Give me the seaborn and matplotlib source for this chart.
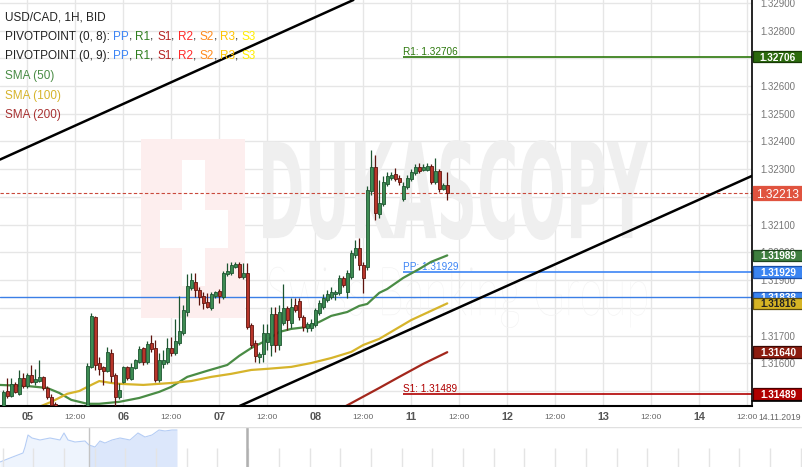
import numpy as np
import pandas as pd
import matplotlib
matplotlib.use("Agg")
import matplotlib.pyplot as plt
import seaborn as sns
from matplotlib.patches import Rectangle, PathPatch
from matplotlib.textpath import TextPath
from matplotlib.font_manager import FontProperties
from matplotlib.transforms import Affine2D, blended_transform_factory
from matplotlib.lines import Line2D

# ---------------- data ----------------
opens = [1.31443, 1.31500, 1.31482, 1.31526, 1.31490, 1.31547, 1.31518, 1.31558, 1.31533, 1.31536,
         1.31551, 1.31511, 1.31479, 1.31454, 1.31425, 1.31400, 1.31385, 1.31395, 1.31380, 1.31400,
         1.31410, 1.31425, 1.31587, 1.31767, 1.31601, 1.31587, 1.31573, 1.31637, 1.31558, 1.31479,
         1.31533, 1.31587, 1.31544, 1.31583, 1.31605, 1.31655, 1.31605, 1.31674, 1.31655, 1.31540,
         1.31598, 1.31605, 1.31655, 1.31637, 1.31674, 1.31710, 1.31785, 1.31872, 1.31893, 1.31865,
         1.31843, 1.31821, 1.31800, 1.31843, 1.31861, 1.31839, 1.31922, 1.31926, 1.31947, 1.31958,
         1.31911, 1.31926, 1.31738, 1.31674, 1.31623, 1.31634, 1.31677, 1.31666, 1.31778, 1.31666,
         1.31746, 1.31800, 1.31746, 1.31810, 1.31825, 1.31767, 1.31728, 1.31728, 1.31738, 1.31782,
         1.31803, 1.31829, 1.31839, 1.31850, 1.31854, 1.31908, 1.31857, 1.31911, 1.31991, 1.32016,
         1.31955, 1.31947, 1.32221, 1.32308, 1.32139, 1.32175, 1.32247, 1.32268, 1.32283, 1.32268,
         1.32193, 1.32236, 1.32265, 1.32286, 1.32308, 1.32297, 1.32297, 1.32312, 1.32254, 1.32293,
         1.32229, 1.32243]
highs = [1.31504, 1.31547, 1.31547, 1.31533, 1.31576, 1.31565, 1.31565, 1.31594, 1.31580, 1.31612,
         1.31554, 1.31518, 1.31490, 1.31461, 1.31430, 1.31410, 1.31405, 1.31410, 1.31415, 1.31425,
         1.31448, 1.31601, 1.31782, 1.31771, 1.31623, 1.31591, 1.31659, 1.31652, 1.31565, 1.31529,
         1.31591, 1.31591, 1.31601, 1.31616, 1.31663, 1.31659, 1.31681, 1.31702, 1.31684, 1.31637,
         1.31648, 1.31691, 1.31695, 1.31760, 1.31843, 1.31810, 1.31922, 1.31926, 1.31926, 1.31875,
         1.31857, 1.31854, 1.31857, 1.31861, 1.31868, 1.31933, 1.31962, 1.31966, 1.31966, 1.31966,
         1.31962, 1.31962, 1.31746, 1.31684, 1.31641, 1.31742, 1.31742, 1.31803, 1.31803, 1.31810,
         1.31886, 1.31807, 1.31836, 1.31836, 1.31836, 1.31774, 1.31749, 1.31760, 1.31800, 1.31829,
         1.31850, 1.31865, 1.31875, 1.31865, 1.31919, 1.31915, 1.31937, 1.32009, 1.32045, 1.32052,
         1.31966, 1.32239, 1.32369, 1.32351, 1.32261, 1.32276, 1.32290, 1.32290, 1.32304, 1.32279,
         1.32254, 1.32279, 1.32301, 1.32319, 1.32322, 1.32319, 1.32322, 1.32319, 1.32340, 1.32301,
         1.32250, 1.32290]
lows = [1.31432, 1.31475, 1.31479, 1.31493, 1.31486, 1.31511, 1.31511, 1.31529, 1.31522, 1.31533,
        1.31504, 1.31472, 1.31443, 1.31414, 1.31390, 1.31370, 1.31375, 1.31365, 1.31370, 1.31390,
        1.31400, 1.31414, 1.31583, 1.31576, 1.31558, 1.31522, 1.31569, 1.31533, 1.31443, 1.31472,
        1.31529, 1.31540, 1.31540, 1.31580, 1.31601, 1.31594, 1.31598, 1.31641, 1.31533, 1.31533,
        1.31583, 1.31598, 1.31627, 1.31630, 1.31666, 1.31702, 1.31771, 1.31865, 1.31839, 1.31810,
        1.31796, 1.31800, 1.31792, 1.31836, 1.31818, 1.31832, 1.31915, 1.31919, 1.31944, 1.31908,
        1.31904, 1.31724, 1.31655, 1.31605, 1.31601, 1.31605, 1.31648, 1.31627, 1.31641, 1.31648,
        1.31738, 1.31720, 1.31728, 1.31785, 1.31756, 1.31717, 1.31713, 1.31717, 1.31731, 1.31774,
        1.31796, 1.31821, 1.31832, 1.31829, 1.31847, 1.31875, 1.31836, 1.31904, 1.31980, 1.31937,
        1.31854, 1.31937, 1.32207, 1.32117, 1.32124, 1.32167, 1.32239, 1.32261, 1.32257, 1.32243,
        1.32185, 1.32229, 1.32257, 1.32279, 1.32286, 1.32293, 1.32293, 1.32247, 1.32247, 1.32218,
        1.32225, 1.32189]
closes = [1.31497, 1.31482, 1.31526, 1.31497, 1.31547, 1.31518, 1.31558, 1.31533, 1.31544, 1.31551,
          1.31511, 1.31479, 1.31450, 1.31425, 1.31400, 1.31385, 1.31395, 1.31380, 1.31400, 1.31410,
          1.31420, 1.31591, 1.31771, 1.31594, 1.31580, 1.31573, 1.31641, 1.31554, 1.31479, 1.31504,
          1.31587, 1.31547, 1.31587, 1.31612, 1.31652, 1.31605, 1.31670, 1.31652, 1.31540, 1.31612,
          1.31612, 1.31655, 1.31637, 1.31681, 1.31717, 1.31792, 1.31879, 1.31901, 1.31865, 1.31839,
          1.31818, 1.31803, 1.31850, 1.31857, 1.31843, 1.31926, 1.31933, 1.31955, 1.31958, 1.31911,
          1.31926, 1.31731, 1.31666, 1.31627, 1.31634, 1.31710, 1.31710, 1.31778, 1.31666, 1.31785,
          1.31800, 1.31756, 1.31803, 1.31792, 1.31767, 1.31731, 1.31742, 1.31746, 1.31792, 1.31818,
          1.31836, 1.31850, 1.31857, 1.31857, 1.31908, 1.31883, 1.31926, 1.31998, 1.32016, 1.31955,
          1.31908, 1.32225, 1.32308, 1.32142, 1.32178, 1.32254, 1.32276, 1.32279, 1.32265, 1.32254,
          1.32239, 1.32268, 1.32290, 1.32308, 1.32293, 1.32308, 1.32312, 1.32254, 1.32293, 1.32229,
          1.32243, 1.32213]

sma50_idx = [-1, 6, 11, 14, 17, 21, 24, 29, 34, 39, 42, 46, 51, 56, 59, 62, 66, 69, 72, 76, 79,
             82, 86, 89, 91, 94, 96, 100, 104, 107, 111]
sma50_val = [1.31522, 1.31518, 1.31511, 1.31493, 1.31468, 1.31454, 1.31454, 1.31461, 1.31475,
             1.31497, 1.31515, 1.31551, 1.31573, 1.31594, 1.31627, 1.31655, 1.31684, 1.31713,
             1.31724, 1.31731, 1.31749, 1.31771, 1.31785, 1.31807, 1.31814, 1.31854, 1.31868,
             1.31908, 1.31940, 1.31966, 1.31989]
sma100_idx = [6, 12, 16, 19, 22, 24, 27, 29, 35, 39, 42, 47, 52, 57, 62, 66, 72, 77, 82, 87, 90,
              94, 102, 111]
sma100_val = [1.31425, 1.31461, 1.31490, 1.31500, 1.31522, 1.31536, 1.31529, 1.31526, 1.31522,
              1.31526, 1.31529, 1.31536, 1.31551, 1.31562, 1.31576, 1.31580, 1.31587, 1.31601,
              1.31619, 1.31641, 1.31666, 1.31688, 1.31756, 1.31816]
sma200_idx = [83, 89, 94, 99, 105, 111]
sma200_val = [1.31425, 1.31472, 1.31511, 1.31551, 1.31598, 1.31640]

# trend channel anchors (candle index, price)
upper_trend = [(0, 1.32340), (80, 1.32861)]
lower_trend = [(60, 1.31452), (186, 1.32268)]

pivot_start = 100
r1_value = 1.32706
pp_value = 1.31929
s1_value = 1.31489
prev_pp_value = 1.31838
last_price = 1.32213

day_pos = [6, 30, 54, 78, 102, 126, 150, 174]
day_labels = ["05", "06", "07", "08", "11", "12", "13", "14"]
noon_pos = [18, 42, 66, 90, 114, 138, 162, 186]
noon_labels = ["12:00"] * 8
price_ticks = [1.314, 1.315, 1.316, 1.317, 1.318, 1.319, 1.320, 1.321, 1.322, 1.323,
               1.324, 1.325, 1.326, 1.327, 1.328, 1.329]
# tick labels fully covered by the price boxes in the reference
hidden_ticks = [1.315, 1.318, 1.322, 1.327]

nav_t = [0, 10, 23, 25, 28, 32, 40, 50, 60, 64, 68, 75, 85, 89, 95, 100, 105, 112, 120, 130,
         138, 145, 152, 159, 165, 172, 177]
nav_v = [5, 9, 14, 20, 32, 29, 27, 29, 27, 34, 27, 25, 26, 22, 20, 26, 24, 27, 29, 27, 34, 30,
         32, 37, 36, 37, 37]

# ---------------- style ----------------
sns.set_theme(style="white")
plt.rcParams['font.family'] = ['Liberation Sans', 'DejaVu Sans']

W, H = 803, 467
fig = plt.figure(figsize=(W / 100, H / 100), dpi=100)
fig.patch.set_facecolor('white')
ax = fig.add_axes([0, (H - 406) / H, 752 / W, 406 / H])
ax.set_facecolor('none')

XMIN, XMAX = -0.825, 187.2
YMIN, YMAX = 1.31446, 1.32910

G_FILL, G_EDGE = '#3d8b52', '#1d5530'
R_FILL, R_EDGE = '#b8352a', '#5e140e'

# watermark ----------------------------------------------------------
def fit_text(s, box, color, family, weight):
    fp = FontProperties(family=family, weight=weight)
    tp = TextPath((0, 0), s, size=100, prop=fp)
    ext = tp.get_extents()
    x0, y0, x1, y1 = box
    fx0, fx1 = x0 / W, x1 / W
    fy0, fy1 = 1 - y1 / H, 1 - y0 / H
    tr = (Affine2D().translate(-ext.x0, -ext.y0)
          .scale((fx1 - fx0) / ext.width, (fy1 - fy0) / ext.height)
          .translate(fx0, fy0) + fig.transFigure)
    ax.add_patch(PathPatch(tp, transform=tr, fc=color, ec='none', zorder=0.6))

def fig_rect(x0, y0, x1, y1, color, z):
    ax.add_patch(Rectangle((x0 / W, 1 - y1 / H), (x1 - x0) / W, (y1 - y0) / H,
                           transform=fig.transFigure, fc=color, ec='none', zorder=z))

fig_rect(141, 139, 245, 318, '#fdeeee', 0.55)
fig_rect(160, 210, 228, 248, 'white', 0.56)
fig_rect(182, 160, 205, 286, 'white', 0.56)
fit_text("DUKASCOPY", (263, 140, 648, 240), '#efefef', 'DejaVu Sans', 'bold')
fit_text("Swiss Banking Group", (268, 266, 647, 328), '#f2f2f2', 'Lato', 'light')

# grid / axes --------------------------------------------------------
ax.set_xticks(day_pos)
ax.set_xticklabels(day_labels)
ax.set_xticks(noon_pos, minor=True)
ax.set_xticklabels(noon_labels, minor=True)
ax.set_yticks(price_ticks)
ax.set_yticklabels(["" if any(abs(v - h) < 1e-9 for h in hidden_ticks) else f"{v:.5f}"
                    for v in price_ticks])
ax.yaxis.tick_right()
ax.grid(True, which='major', axis='both', color='#e6e6e6', lw=1)
ax.grid(True, which='minor', axis='x', color='#e6e6e6', lw=1)
ax.set_axisbelow(True)
ax.tick_params(axis='y', which='major', length=0, pad=6, labelsize=7, labelcolor='#777777')
ax.tick_params(axis='x', which='major', length=0, pad=4.5, labelsize=7.8, labelcolor='#555555')
ax.tick_params(axis='x', which='minor', length=0, pad=5.5, labelsize=6, labelcolor='#666666')
for lab in ax.get_xticklabels():
    lab.set_fontweight('bold')
for s in ['top', 'left']:
    ax.spines[s].set_visible(False)
ax.spines['right'].set_color('black')
ax.spines['right'].set_linewidth(1.2)
ax.spines['bottom'].set_color('black')
ax.spines['bottom'].set_linewidth(1.5)

# horizontal levels ----------------------------------------------------
ax.axhline(prev_pp_value, color='#3b7fe6', lw=1, zorder=1.5)
ax.axhline(last_price, color='#c9483a', lw=0.8, ls=(0, (3, 2)), zorder=1.5)
for val, col, name in [(r1_value, '#2c780c', 'R1'), (pp_value, '#3d85f5', 'PP'),
                       (s1_value, '#b00000', 'S1')]:
    ax.hlines(val, pivot_start, XMAX, color=col, lw=1.2, zorder=1.6)
    ax.text(pivot_start, val, f"{name}: {val:.5f}", color=col, fontsize=7.2,
            ha='left', va='bottom', zorder=1.7)

# SMA lines ------------------------------------------------------------
sns.lineplot(x=sma50_idx, y=sma50_val, ax=ax, color='#4a8c45', lw=1.6, sort=False,
             estimator=None, zorder=2)
sns.lineplot(x=sma100_idx, y=sma100_val, ax=ax, color='#d6b42b', lw=1.6, sort=False,
             estimator=None, zorder=2)
sns.lineplot(x=sma200_idx, y=sma200_val, ax=ax, color='#a3271c', lw=1.6, sort=False,
             estimator=None, zorder=2)

# trend channel
ax.axline(upper_trend[0], upper_trend[1], color='black', lw=1.8, zorder=2.2)
ax.axline(lower_trend[0], lower_trend[1], color='black', lw=1.8, zorder=2.2)

# candles --------------------------------------------------------------
df = pd.DataFrame({'open': opens, 'high': highs, 'low': lows, 'close': closes})
df['idx'] = np.arange(len(df))
up = (df['close'] >= df['open']).values
edge = np.where(up, G_EDGE, R_EDGE)
fill = np.where(up, G_FILL, R_FILL)
ax.vlines(df['idx'], df['low'], df['high'], colors=edge, lw=0.9, zorder=3)
body_h = (df['close'] - df['open']).abs().clip(lower=0.000025)
body_b = df[['open', 'close']].min(axis=1)
ax.bar(df['idx'], body_h, bottom=body_b, width=0.72, color=fill, edgecolor=edge,
       linewidth=0.6, zorder=4)

ax.set_xlim(XMIN, XMAX)
ax.set_ylim(YMIN, YMAX)
ax.set_xlabel('')
ax.set_ylabel('')

# right-side price boxes -------------------------------------------------
tb = blended_transform_factory(ax.transAxes, ax.transData)
ppx = (YMAX - YMIN) / 406.0

def price_box(val, fc, ec, tc, z, h_px=11.5, fs=7.2, weight='bold'):
    h = h_px * ppx
    ax.add_patch(Rectangle((1.0 + 1 / 752, val - h / 2), 50 / 752, h, transform=tb,
                           fc=fc, ec=ec, lw=0.9, clip_on=False, zorder=z))
    ax.text(1.0 + 26 / 752, val, f"{val:.5f}", transform=tb, ha='center',
            va='center_baseline', fontsize=fs, color=tc, fontweight=weight,
            clip_on=False, zorder=z + 0.1)

price_box(r1_value, '#2b6a0d', '#173a06', 'white', 10)
price_box(last_price, '#e0533f', '#e0533f', 'white', 10, h_px=14.3, fs=8.6, weight='normal')
price_box(sma50_val[-1], '#3f7e3f', '#1e451e', 'white', 10)
price_box(pp_value, '#3b85f2', '#1c4fa6', 'white', 10)
price_box(prev_pp_value, '#3b85f2', '#1c4fa6', 'white', 10)
price_box(sma100_val[-1], '#d6b424', '#5e4d0c', '#222222', 11)
price_box(sma200_val[-1], '#8c1c0f', '#3a0804', 'white', 10)
price_box(s1_value, '#b00000', '#4a0000', 'white', 10)

# legend text (top-left) -------------------------------------------------
FS = 8.5
def colored_line(y_px, parts):
    prev = ax.text(5 / W, 1 - y_px / H, parts[0][0], color=parts[0][1], fontsize=FS,
                   ha='left', va='baseline', transform=fig.transFigure, zorder=20)
    for s, c in parts[1:]:
        prev = ax.annotate(s, xy=(1, 0), xycoords=prev, va='bottom', ha='left',
                           color=c, fontsize=FS, annotation_clip=False, zorder=20)

BLK = '#222222'
piv_parts = [("PP", '#3d85f5'), (", ", BLK), ("R1", '#2e7d1e'), (", ", BLK),
             ("S1", '#b52222'), (", ", BLK), ("R2", '#ff2a2a'), (", ", BLK),
             ("S2", '#ff8a1c'), (", ", BLK), ("R3", '#ffc400'), (", ", BLK),
             ("S3", '#ffee00')]
colored_line(20.0, [("USD/CAD, 1H, BID", BLK)])
colored_line(39.6, [("PIVOTPOINT (0, 8): ", BLK)] + piv_parts)
colored_line(59.3, [("PIVOTPOINT (0, 9): ", BLK)] + piv_parts)
colored_line(79.0, [("SMA (50)", '#4a8c45')])
colored_line(98.8, [("SMA (100)", '#d6b42b')])
colored_line(118.5, [("SMA (200)", '#a83232')])

fig.text(801 / W, 1 - 417 / H, "14.11.2019", ha='right', va='center', fontsize=6.2,
         color='#666666', bbox=dict(fc='white', ec='none', pad=0.6))
fig.add_artist(Line2D([752 / W, 1.0], [1 - 400.5 / H, 1 - 400.5 / H], color='black',
                      lw=1.2, transform=fig.transFigure))

# navigator ----------------------------------------------------------------
nav = fig.add_axes([0, 0, 1, 40 / H])
nav.set_xlim(0, W)
nav.set_ylim(0, 40)
nav.axis('off')
t = np.array(nav_t, dtype=float)
v = np.array(nav_v, dtype=float)
left = t <= 89
right = t >= 89
nav.fill_between(t[left], 0, v[left], color='#eef4fd', lw=0)
nav.fill_between(t[right], 0, v[right], color='#dce7fb', lw=0)
nav.plot(t, v, color='#b5cdf5', lw=0.8)
nav.vlines(np.arange(2.6, W, 30.7), 0, 19, color='#e4e4e4', lw=1)
nav.axvline(89, color='#c4c4c4', lw=1)
nav.axvline(247, color='#b0b0b0', lw=1.8)
nav.axhline(39.6, color='#e0e0e0', lw=1)

fig.savefig('out.png', dpi=100)
